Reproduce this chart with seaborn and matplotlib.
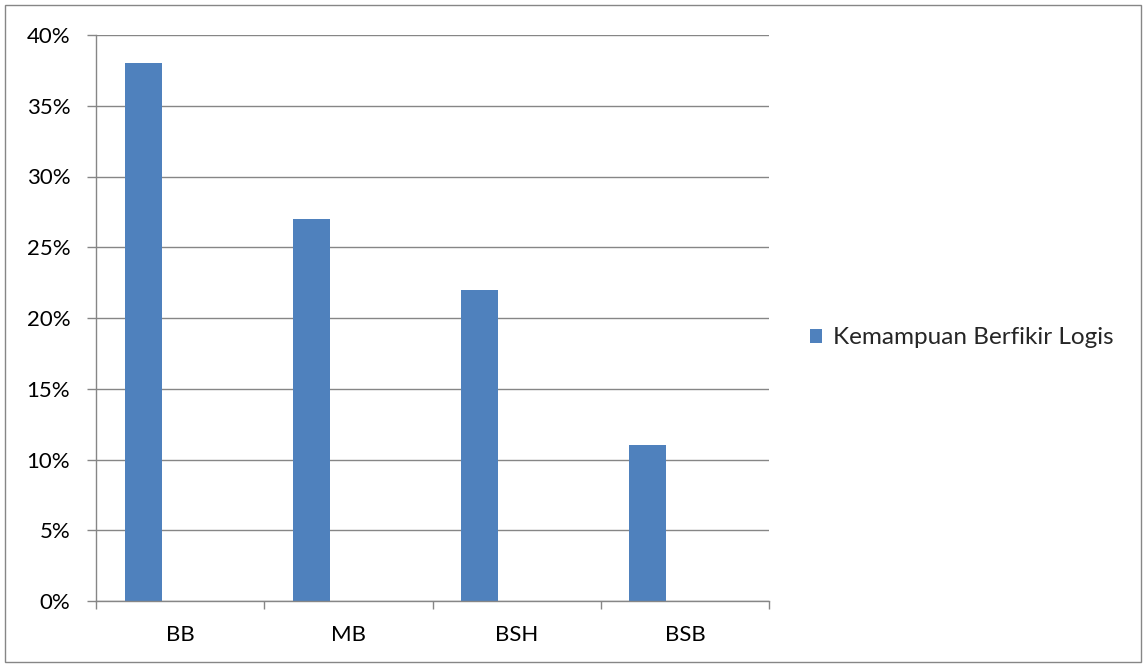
import matplotlib
matplotlib.use("Agg")
import matplotlib.pyplot as plt
import seaborn as sns
import pandas as pd
from matplotlib.patches import Rectangle, Patch
from matplotlib.ticker import PercentFormatter, FixedLocator

categories = ["BB", "MB", "BSH", "BSB"]
values = [0.38, 0.27, 0.22, 0.11]
series_name = "Kemampuan Berfikir Logis"
y_ticks = [0, 0.05, 0.10, 0.15, 0.20, 0.25, 0.30, 0.35, 0.40]

sns.set_theme(style="white")
plt.rcParams["font.family"] = ["Lato", "DejaVu Sans"]

df = pd.DataFrame({"cat": categories, "val": values, "series": series_name})
# two empty helper levels reproduce Excel's clustered slot layout
hue_levels = [series_name, "_e1", "_e2"]

fig = plt.figure(figsize=(11.44, 6.64), dpi=100)
ax = fig.add_axes([96/1144, 1-601/664, (769-96)/1144, (601-35)/664])

bar_color = "#4F81BD"
sns.barplot(data=df, x="cat", y="val", hue="series", hue_order=hue_levels,
            palette=[bar_color, bar_color, bar_color], width=0.66, dodge=True,
            saturation=1, legend=False, ax=ax, linewidth=0, errorbar=None)

grid_c = "#868686"
ax.set_ylim(0, 0.40)
ax.set_xlim(-0.5, len(categories) - 0.5)
ax.yaxis.set_major_locator(FixedLocator(y_ticks))
ax.yaxis.set_major_formatter(PercentFormatter(1.0, decimals=0))
ax.yaxis.grid(True, color=grid_c, linewidth=1.0)
ax.set_axisbelow(True)
ax.set_xlabel("")
ax.set_ylabel("")
for s in ["top", "right"]:
    ax.spines[s].set_visible(False)
for s in ["left", "bottom"]:
    ax.spines[s].set_color(grid_c)
    ax.spines[s].set_linewidth(1.0)

ax.tick_params(axis="y", which="major", length=6.5, color=grid_c, width=1,
               labelsize=16, pad=12, labelcolor="black", left=True)
ax.tick_params(axis="x", which="major", length=0, labelsize=16, pad=17,
               labelcolor="black")
ax.set_xticks(range(len(categories)))
ax.set_xticklabels(categories)
ax.set_xticks([i - 0.5 for i in range(len(categories) + 1)], minor=True)
ax.tick_params(axis="x", which="minor", length=6, color=grid_c, width=1, bottom=True)

handle = Patch(facecolor=bar_color, edgecolor="none")
fig.legend([handle], [series_name], loc="center left",
           bbox_to_anchor=(788/1144, 1-338/664), frameon=False,
           fontsize=17.5, handlelength=0.5, handleheight=0.5, handletextpad=0.45)

fig.patches.append(Rectangle((5/1144, 2/664), 1136/1144, 657/664,
                             transform=fig.transFigure, fill=False,
                             edgecolor="#868686", linewidth=1.0))

fig.savefig("out.png", dpi=100)
